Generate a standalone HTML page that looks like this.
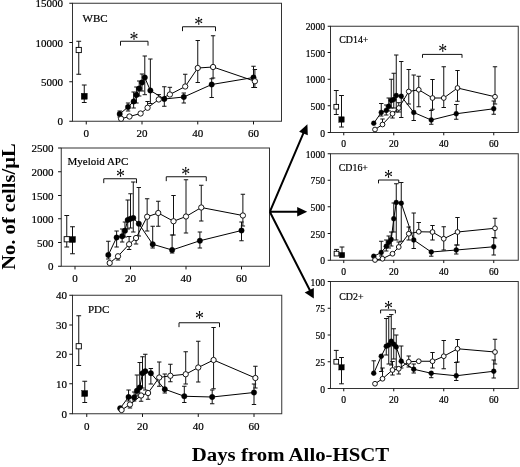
<!DOCTYPE html>
<html><head><meta charset="utf-8"><title>Figure</title>
<style>
html,body{margin:0;padding:0;background:#fff;}
svg{display:block;will-change:transform;font-family:"Liberation Serif","Times New Roman",serif;}
</style></head><body>
<svg width="520" height="467" viewBox="0 0 520 467">
<rect width="520" height="467" fill="#fff"/>
<g stroke="#111" stroke-width="1" fill="none">
<rect x="72.5" y="3.25" width="209.0" height="118.0" stroke="#333"/>
<path d="M69.3 3.25H72.5M69.3 42.5H72.5M69.3 81.75H72.5M69.3 121.25H72.5M86.25 121.25v3.2M142.00 121.25v3.2M197.75 121.25v3.2M253.50 121.25v3.2"/>
</g>
<g font-size="11" fill="#000" stroke="#000" stroke-width="0.2">
<text x="63" y="7.35" text-anchor="end">15000</text>
<text x="63" y="46.60" text-anchor="end">10000</text>
<text x="63" y="85.85" text-anchor="end">5000</text>
<text x="63" y="125.35" text-anchor="end">0</text>
<text x="86.25" y="137.4" text-anchor="middle">0</text>
<text x="142.00" y="137.4" text-anchor="middle">20</text>
<text x="197.75" y="137.4" text-anchor="middle">40</text>
<text x="253.50" y="137.4" text-anchor="middle">60</text>
<text x="82.5" y="22" font-size="11.00">WBC</text>
</g>
<g stroke="#111" stroke-width="1" fill="none">
<path d="M119.70 111.00V117.00M117.50 111.00h4.4M117.50 117.00h4.4" />
<path d="M128.06 103.00V111.00M125.86 103.00h4.4M125.86 111.00h4.4" />
<path d="M133.64 92.00V108.00M131.44 92.00h4.4M131.44 108.00h4.4" />
<path d="M136.43 87.00V103.00M134.23 87.00h4.4M134.23 103.00h4.4" />
<path d="M139.21 81.00V96.00M137.01 81.00h4.4M137.01 96.00h4.4" />
<path d="M142.00 74.00V91.00M139.80 74.00h4.4M139.80 91.00h4.4" />
<path d="M144.79 56.00V94.70M142.59 56.00h4.4M142.59 94.70h4.4" />
<path d="M150.36 59.00V103.50M148.16 59.00h4.4M148.16 103.50h4.4" />
<path d="M164.30 86.75V106.25M162.10 86.75h4.4M162.10 106.25h4.4" />
<path d="M183.81 93.00V103.00M181.61 93.00h4.4M181.61 103.00h4.4" />
<path d="M211.69 78.75V97.50M209.49 78.75h4.4M209.49 97.50h4.4" />
<path d="M253.50 66.25V87.50M251.30 66.25h4.4M251.30 87.50h4.4" />
<path d="M147.57 101.50V107.75M145.38 101.50h4.4M145.38 107.75h4.4" />
<path d="M158.73 94.60V99.50M156.53 94.60h4.4M156.53 99.50h4.4" />
<path d="M169.88 87.30V94.50M167.68 87.30h4.4M167.68 94.50h4.4" />
<path d="M185.21 74.25V86.50M183.01 74.25h4.4M183.01 86.50h4.4" />
<path d="M197.75 40.50V82.50M195.55 40.50h4.4M195.55 82.50h4.4" />
<path d="M213.08 35.75V78.00M210.88 35.75h4.4M210.88 78.00h4.4" />
<path d="M254.89 69.50V87.50M252.69 69.50h4.4M252.69 87.50h4.4" />
<path d="M78.75 41.25V74.25M76.35 41.25h4.8M76.35 74.25h4.8" />
<path d="M84.25 85.00V102.50M81.85 85.00h4.8M81.85 102.50h4.8" />
</g>
<g stroke="#111" stroke-width="1" fill="none">
<path d="M120.5 45.65V41.25H148V45.65"/>
<path d="M182.5 31.15V26.75H215.5V31.15"/>
</g>
<text transform="translate(134 45.55) scale(1 1.15)" text-anchor="middle" font-size="18" fill="#000">*</text>
<text transform="translate(198.75 31.05) scale(1 1.15)" text-anchor="middle" font-size="18" fill="#000">*</text>
<g stroke="#000" stroke-width="1" fill="none">
<polyline points="119.70,114 128.06,107 133.64,101.5 136.43,95 139.21,88.5 142.00,82.5 144.79,77.5 150.36,90.5 164.30,99 183.81,97 211.69,84.5 253.50,77.5"/>
<polyline points="121.09,118.75 129.46,116.5 140.61,113.5 147.57,107.75 158.73,99.5 169.88,94.5 185.21,86.5 197.75,68 213.08,67 254.89,81.25"/>
</g>
<g fill="#000" stroke="#000" stroke-width="0.4">
<circle cx="119.70" cy="114" r="2.70"/>
<circle cx="128.06" cy="107" r="2.70"/>
<circle cx="133.64" cy="101.5" r="2.70"/>
<circle cx="136.43" cy="95" r="2.70"/>
<circle cx="139.21" cy="88.5" r="2.70"/>
<circle cx="142.00" cy="82.5" r="2.70"/>
<circle cx="144.79" cy="77.5" r="2.70"/>
<circle cx="150.36" cy="90.5" r="2.70"/>
<circle cx="164.30" cy="99" r="2.70"/>
<circle cx="183.81" cy="97" r="2.70"/>
<circle cx="211.69" cy="84.5" r="2.70"/>
<circle cx="253.50" cy="77.5" r="2.70"/>
<rect x="81.25" y="93.25" width="6.0" height="6.0"/>
</g>
<g fill="#fff" stroke="#000" stroke-width="0.9">
<circle cx="121.09" cy="118.75" r="2.65"/>
<circle cx="129.46" cy="116.5" r="2.65"/>
<circle cx="140.61" cy="113.5" r="2.65"/>
<circle cx="147.57" cy="107.75" r="2.65"/>
<circle cx="158.73" cy="99.5" r="2.65"/>
<circle cx="169.88" cy="94.5" r="2.65"/>
<circle cx="185.21" cy="86.5" r="2.65"/>
<circle cx="197.75" cy="68" r="2.65"/>
<circle cx="213.08" cy="67" r="2.65"/>
<circle cx="254.89" cy="81.25" r="2.65"/>
<rect x="76.15" y="47.4" width="5.2" height="5.2"/>
</g>
<g stroke="#111" stroke-width="1" fill="none">
<rect x="61.25" y="148" width="208.25" height="118.25" stroke="#333"/>
<path d="M58.05 148H61.25M58.05 171.75H61.25M58.05 195.5H61.25M58.05 218.75H61.25M58.05 242.5H61.25M58.05 266.25H61.25M75.00 266.25v3.2M130.50 266.25v3.2M186.00 266.25v3.2M241.50 266.25v3.2"/>
</g>
<g font-size="11" fill="#000" stroke="#000" stroke-width="0.2">
<text x="53.5" y="152.10" text-anchor="end">2500</text>
<text x="53.5" y="175.85" text-anchor="end">2000</text>
<text x="53.5" y="199.60" text-anchor="end">1500</text>
<text x="53.5" y="222.85" text-anchor="end">1000</text>
<text x="53.5" y="246.60" text-anchor="end">500</text>
<text x="53.5" y="270.35" text-anchor="end">0</text>
<text x="75.00" y="282.4" text-anchor="middle">0</text>
<text x="130.50" y="282.4" text-anchor="middle">20</text>
<text x="186.00" y="282.4" text-anchor="middle">40</text>
<text x="241.50" y="282.4" text-anchor="middle">60</text>
<text x="67.5" y="165" font-size="11.00">Myeloid APC</text>
</g>
<g stroke="#111" stroke-width="1" fill="none">
<path d="M108.30 241.25V259.00M106.10 241.25h4.4M106.10 259.00h4.4" />
<path d="M116.62 231.00V247.00M114.42 231.00h4.4M114.42 247.00h4.4" />
<path d="M122.17 229.00V242.00M119.97 229.00h4.4M119.97 242.00h4.4" />
<path d="M124.95 222.00V237.00M122.75 222.00h4.4M122.75 237.00h4.4" />
<path d="M127.72 200.00V229.00M125.52 200.00h4.4M125.52 229.00h4.4" />
<path d="M130.50 193.75V228.00M128.30 193.75h4.4M128.30 228.00h4.4" />
<path d="M133.28 182.00V232.00M131.08 182.00h4.4M131.08 232.00h4.4" />
<path d="M138.82 187.50V236.00M136.62 187.50h4.4M136.62 236.00h4.4" />
<path d="M152.70 226.25V248.00M150.50 226.25h4.4M150.50 248.00h4.4" />
<path d="M172.12 235.00V253.00M169.93 235.00h4.4M169.93 253.00h4.4" />
<path d="M199.88 232.00V248.00M197.68 232.00h4.4M197.68 248.00h4.4" />
<path d="M241.50 222.00V240.75M239.30 222.00h4.4M239.30 240.75h4.4" />
<path d="M118.01 256.25V260.00M115.81 256.25h4.4M115.81 260.00h4.4" />
<path d="M129.11 236.50V249.50M126.91 236.50h4.4M126.91 249.50h4.4" />
<path d="M136.05 238.00V244.00M133.85 238.00h4.4M133.85 244.00h4.4" />
<path d="M147.15 198.75V231.00M144.95 198.75h4.4M144.95 231.00h4.4" />
<path d="M158.25 201.25V226.25M156.05 201.25h4.4M156.05 226.25h4.4" />
<path d="M173.51 195.50V235.00M171.31 195.50h4.4M171.31 235.00h4.4" />
<path d="M186.00 179.75V233.00M183.80 179.75h4.4M183.80 233.00h4.4" />
<path d="M201.26 185.25V221.00M199.06 185.25h4.4M199.06 221.00h4.4" />
<path d="M242.89 194.25V226.00M240.69 194.25h4.4M240.69 226.00h4.4" />
<path d="M66.75 215.50V247.00M64.35 215.50h4.8M64.35 247.00h4.8" />
<path d="M72.50 226.75V253.75M70.10 226.75h4.8M70.10 253.75h4.8" />
</g>
<g stroke="#111" stroke-width="1" fill="none">
<path d="M103.75 183.15V178.75H136.5V183.15"/>
<path d="M166.25 181.15V176.75H206.25V181.15"/>
</g>
<text transform="translate(120.5 182.80) scale(1 1.15)" text-anchor="middle" font-size="18" fill="#000">*</text>
<text transform="translate(185.75 181.05) scale(1 1.15)" text-anchor="middle" font-size="18" fill="#000">*</text>
<g stroke="#000" stroke-width="1" fill="none">
<polyline points="108.30,255 116.62,237.5 122.17,236.25 124.95,230.75 127.72,220 130.50,218.75 133.28,218 138.82,223.75 152.70,244.25 172.12,250 199.88,240.75 241.50,230.5"/>
<polyline points="109.69,263 118.01,256.25 129.11,244.25 136.05,238 147.15,216.75 158.25,213 173.51,221.25 186.00,216.5 201.26,207.5 242.89,215.5"/>
</g>
<g fill="#000" stroke="#000" stroke-width="0.4">
<circle cx="108.30" cy="255" r="2.70"/>
<circle cx="116.62" cy="237.5" r="2.70"/>
<circle cx="122.17" cy="236.25" r="2.70"/>
<circle cx="124.95" cy="230.75" r="2.70"/>
<circle cx="127.72" cy="220" r="2.70"/>
<circle cx="130.50" cy="218.75" r="2.70"/>
<circle cx="133.28" cy="218" r="2.70"/>
<circle cx="138.82" cy="223.75" r="2.70"/>
<circle cx="152.70" cy="244.25" r="2.70"/>
<circle cx="172.12" cy="250" r="2.70"/>
<circle cx="199.88" cy="240.75" r="2.70"/>
<circle cx="241.50" cy="230.5" r="2.70"/>
<rect x="69.5" y="236.5" width="6.0" height="6.0"/>
</g>
<g fill="#fff" stroke="#000" stroke-width="0.9">
<circle cx="109.69" cy="263" r="2.65"/>
<circle cx="118.01" cy="256.25" r="2.65"/>
<circle cx="129.11" cy="244.25" r="2.65"/>
<circle cx="136.05" cy="238" r="2.65"/>
<circle cx="147.15" cy="216.75" r="2.65"/>
<circle cx="158.25" cy="213" r="2.65"/>
<circle cx="173.51" cy="221.25" r="2.65"/>
<circle cx="186.00" cy="216.5" r="2.65"/>
<circle cx="201.26" cy="207.5" r="2.65"/>
<circle cx="242.89" cy="215.5" r="2.65"/>
<rect x="64.15" y="236.65" width="5.2" height="5.2"/>
</g>
<g stroke="#111" stroke-width="1" fill="none">
<rect x="72.5" y="295.25" width="209.25" height="118.5" stroke="#333"/>
<path d="M69.3 295.25H72.5M69.3 325H72.5M69.3 354.25H72.5M69.3 383.75H72.5M69.3 413.75H72.5M86.75 413.75v3.2M142.50 413.75v3.2M198.25 413.75v3.2M254.00 413.75v3.2"/>
</g>
<g font-size="11" fill="#000" stroke="#000" stroke-width="0.2">
<text x="67" y="299.35" text-anchor="end">40</text>
<text x="67" y="329.10" text-anchor="end">30</text>
<text x="67" y="358.35" text-anchor="end">20</text>
<text x="67" y="387.85" text-anchor="end">10</text>
<text x="67" y="417.85" text-anchor="end">0</text>
<text x="86.75" y="429.9" text-anchor="middle">0</text>
<text x="142.50" y="429.9" text-anchor="middle">20</text>
<text x="198.25" y="429.9" text-anchor="middle">40</text>
<text x="254.00" y="429.9" text-anchor="middle">60</text>
<text x="88" y="313.25" font-size="11.00">PDC</text>
</g>
<g stroke="#111" stroke-width="1" fill="none">
<path d="M128.56 390.00V401.00M126.36 390.00h4.4M126.36 401.00h4.4" />
<path d="M134.14 392.00V401.00M131.94 392.00h4.4M131.94 401.00h4.4" />
<path d="M136.93 375.00V396.00M134.73 375.00h4.4M134.73 396.00h4.4" />
<path d="M139.71 362.50V394.00M137.51 362.50h4.4M137.51 394.00h4.4" />
<path d="M142.50 356.75V388.00M140.30 356.75h4.4M140.30 388.00h4.4" />
<path d="M145.29 354.25V390.00M143.09 354.25h4.4M143.09 390.00h4.4" />
<path d="M150.86 368.50V384.00M148.66 368.50h4.4M148.66 384.00h4.4" />
<path d="M164.80 374.00V393.00M162.60 374.00h4.4M162.60 393.00h4.4" />
<path d="M184.31 386.25V402.50M182.11 386.25h4.4M182.11 402.50h4.4" />
<path d="M212.19 390.00V403.75M209.99 390.00h4.4M209.99 403.75h4.4" />
<path d="M254.00 384.00V404.50M251.80 384.00h4.4M251.80 404.50h4.4" />
<path d="M129.96 404.50V408.00M127.76 404.50h4.4M127.76 408.00h4.4" />
<path d="M141.11 395.50V401.25M138.91 395.50h4.4M138.91 401.25h4.4" />
<path d="M148.07 393.00V399.25M145.88 393.00h4.4M145.88 399.25h4.4" />
<path d="M159.23 362.00V386.25M157.03 362.00h4.4M157.03 386.25h4.4" />
<path d="M170.38 364.25V381.75M168.18 364.25h4.4M168.18 381.75h4.4" />
<path d="M185.71 351.75V384.00M183.51 351.75h4.4M183.51 384.00h4.4" />
<path d="M198.25 341.25V382.00M196.05 341.25h4.4M196.05 382.00h4.4" />
<path d="M213.58 327.50V388.75M211.38 327.50h4.4M211.38 388.75h4.4" />
<path d="M255.39 366.25V388.00M253.19 366.25h4.4M253.19 388.00h4.4" />
<path d="M78.75 315.75V365.50M76.35 315.75h4.8M76.35 365.50h4.8" />
<path d="M84.75 381.25V402.50M82.35 381.25h4.8M82.35 402.50h4.8" />
</g>
<g stroke="#111" stroke-width="1" fill="none">
<path d="M179 327.15V322.75H219.5V327.15"/>
</g>
<text transform="translate(199.5 324.60) scale(1 1.15)" text-anchor="middle" font-size="18" fill="#000">*</text>
<g stroke="#000" stroke-width="1" fill="none">
<polyline points="120.20,408.25 128.56,397 134.14,397.5 136.93,390.75 139.71,387.5 142.50,373.25 145.29,371.25 150.86,373.25 164.80,389.25 184.31,396.25 212.19,397 254.00,392.5"/>
<polyline points="121.59,410 129.96,404.5 141.11,395.5 148.07,393 159.23,377.5 170.38,375.75 185.71,374.25 198.25,367.5 213.58,360 255.39,378"/>
</g>
<g fill="#000" stroke="#000" stroke-width="0.4">
<circle cx="120.20" cy="408.25" r="2.70"/>
<circle cx="128.56" cy="397" r="2.70"/>
<circle cx="134.14" cy="397.5" r="2.70"/>
<circle cx="136.93" cy="390.75" r="2.70"/>
<circle cx="139.71" cy="387.5" r="2.70"/>
<circle cx="142.50" cy="373.25" r="2.70"/>
<circle cx="145.29" cy="371.25" r="2.70"/>
<circle cx="150.86" cy="373.25" r="2.70"/>
<circle cx="164.80" cy="389.25" r="2.70"/>
<circle cx="184.31" cy="396.25" r="2.70"/>
<circle cx="212.19" cy="397" r="2.70"/>
<circle cx="254.00" cy="392.5" r="2.70"/>
<rect x="81.75" y="390.5" width="6.0" height="6.0"/>
</g>
<g fill="#fff" stroke="#000" stroke-width="0.9">
<circle cx="121.59" cy="410" r="2.65"/>
<circle cx="129.96" cy="404.5" r="2.65"/>
<circle cx="141.11" cy="395.5" r="2.65"/>
<circle cx="148.07" cy="393" r="2.65"/>
<circle cx="159.23" cy="377.5" r="2.65"/>
<circle cx="170.38" cy="375.75" r="2.65"/>
<circle cx="185.71" cy="374.25" r="2.65"/>
<circle cx="198.25" cy="367.5" r="2.65"/>
<circle cx="213.58" cy="360" r="2.65"/>
<circle cx="255.39" cy="378" r="2.65"/>
<rect x="76.15" y="343.65" width="5.2" height="5.2"/>
</g>
<g stroke="#111" stroke-width="1" fill="none">
<rect x="330.5" y="26.25" width="187.75" height="106.25" stroke="#333"/>
<path d="M327.7 26.25H330.5M327.7 52.5H330.5M327.7 79.25H330.5M327.7 105.75H330.5M327.7 132.5H330.5M343.75 132.5v2.8M393.75 132.5v2.8M443.75 132.5v2.8M493.75 132.5v2.8"/>
</g>
<g font-size="9.6" fill="#000" stroke="#000" stroke-width="0.2">
<text x="325" y="30.35" text-anchor="end">2000</text>
<text x="325" y="56.60" text-anchor="end">1500</text>
<text x="325" y="83.35" text-anchor="end">1000</text>
<text x="325" y="109.85" text-anchor="end">500</text>
<text x="325" y="136.60" text-anchor="end">0</text>
<text x="343.75" y="146.75" text-anchor="middle">0</text>
<text x="393.75" y="146.75" text-anchor="middle">20</text>
<text x="443.75" y="146.75" text-anchor="middle">40</text>
<text x="493.75" y="146.75" text-anchor="middle">60</text>
<text x="339.25" y="42.5" font-size="9.90">CD14+</text>
</g>
<g stroke="#111" stroke-width="1" fill="none">
<path d="M381.25 103.50V116.00M379.05 103.50h4.4M379.05 116.00h4.4" />
<path d="M386.25 105.00V115.00M384.05 105.00h4.4M384.05 115.00h4.4" />
<path d="M388.75 98.00V111.00M386.55 98.00h4.4M386.55 111.00h4.4" />
<path d="M391.25 79.25V108.00M389.05 79.25h4.4M389.05 108.00h4.4" />
<path d="M393.75 73.25V108.00M391.55 73.25h4.4M391.55 108.00h4.4" />
<path d="M396.25 55.00V112.00M394.05 55.00h4.4M394.05 112.00h4.4" />
<path d="M401.25 61.50V117.50M399.05 61.50h4.4M399.05 117.50h4.4" />
<path d="M413.75 75.00V120.50M411.55 75.00h4.4M411.55 120.50h4.4" />
<path d="M431.25 110.50V124.25M429.05 110.50h4.4M429.05 124.25h4.4" />
<path d="M456.25 104.50V119.25M454.05 104.50h4.4M454.05 119.25h4.4" />
<path d="M493.75 101.00V114.25M491.55 101.00h4.4M491.55 114.25h4.4" />
<path d="M382.50 119.00V124.50M380.30 119.00h4.4M380.30 124.50h4.4" />
<path d="M392.50 113.75V118.00M390.30 113.75h4.4M390.30 118.00h4.4" />
<path d="M398.75 102.70V112.00M396.55 102.70h4.4M396.55 112.00h4.4" />
<path d="M408.75 69.50V104.00M406.55 69.50h4.4M406.55 104.00h4.4" />
<path d="M418.75 76.25V106.75M416.55 76.25h4.4M416.55 106.75h4.4" />
<path d="M432.50 79.50V109.25M430.30 79.50h4.4M430.30 109.25h4.4" />
<path d="M443.75 66.75V107.50M441.55 66.75h4.4M441.55 107.50h4.4" />
<path d="M457.50 70.50V101.25M455.30 70.50h4.4M455.30 101.25h4.4" />
<path d="M495.00 66.75V104.00M492.80 66.75h4.4M492.80 104.00h4.4" />
<path d="M336.25 90.50V114.50M333.85 90.50h4.8M333.85 114.50h4.8" />
<path d="M341.50 95.50V127.00M339.10 95.50h4.8M339.10 127.00h4.8" />
</g>
<g stroke="#111" stroke-width="1" fill="none">
<path d="M422.5 57.8V54.4H462V57.8"/>
</g>
<text transform="translate(442.75 58.20) scale(1 1.15)" text-anchor="middle" font-size="18" fill="#000">*</text>
<g stroke="#000" stroke-width="1" fill="none">
<polyline points="373.75,123.25 381.25,112.5 386.25,110.5 388.75,106.25 391.25,100.5 393.75,99.5 396.25,95.5 401.25,96.25 413.75,112.5 431.25,120 456.25,113.75 493.75,108.75"/>
<polyline points="375.00,129.5 382.50,124.5 392.50,113.75 398.75,108 408.75,91.5 418.75,89.75 432.50,98 443.75,98 457.50,88 495.00,96.75"/>
</g>
<g fill="#000" stroke="#000" stroke-width="0.4">
<circle cx="373.75" cy="123.25" r="2.43"/>
<circle cx="381.25" cy="112.5" r="2.43"/>
<circle cx="386.25" cy="110.5" r="2.43"/>
<circle cx="388.75" cy="106.25" r="2.43"/>
<circle cx="391.25" cy="100.5" r="2.43"/>
<circle cx="393.75" cy="99.5" r="2.43"/>
<circle cx="396.25" cy="95.5" r="2.43"/>
<circle cx="401.25" cy="96.25" r="2.43"/>
<circle cx="413.75" cy="112.5" r="2.43"/>
<circle cx="431.25" cy="120" r="2.43"/>
<circle cx="456.25" cy="113.75" r="2.43"/>
<circle cx="493.75" cy="108.75" r="2.43"/>
<rect x="338.8" y="116.8" width="5.4" height="5.4"/>
</g>
<g fill="#fff" stroke="#000" stroke-width="0.9">
<circle cx="375.00" cy="129.5" r="2.38"/>
<circle cx="382.50" cy="124.5" r="2.38"/>
<circle cx="392.50" cy="113.75" r="2.38"/>
<circle cx="398.75" cy="108" r="2.38"/>
<circle cx="408.75" cy="91.5" r="2.38"/>
<circle cx="418.75" cy="89.75" r="2.38"/>
<circle cx="432.50" cy="98" r="2.38"/>
<circle cx="443.75" cy="98" r="2.38"/>
<circle cx="457.50" cy="88" r="2.38"/>
<circle cx="495.00" cy="96.75" r="2.38"/>
<rect x="333.91" y="104.41" width="4.680000000000001" height="4.680000000000001"/>
</g>
<g stroke="#111" stroke-width="1" fill="none">
<rect x="330.5" y="153.75" width="187.75" height="106.5" stroke="#333"/>
<path d="M327.7 153.75H330.5M327.7 180.25H330.5M327.7 206.75H330.5M327.7 233.5H330.5M327.7 260.25H330.5M343.75 260.25v2.8M393.75 260.25v2.8M443.75 260.25v2.8M493.75 260.25v2.8"/>
</g>
<g font-size="9.6" fill="#000" stroke="#000" stroke-width="0.2">
<text x="325" y="157.85" text-anchor="end">1000</text>
<text x="325" y="184.35" text-anchor="end">750</text>
<text x="325" y="210.85" text-anchor="end">500</text>
<text x="325" y="237.60" text-anchor="end">250</text>
<text x="325" y="264.35" text-anchor="end">0</text>
<text x="343.75" y="274.5" text-anchor="middle">0</text>
<text x="393.75" y="274.5" text-anchor="middle">20</text>
<text x="443.75" y="274.5" text-anchor="middle">40</text>
<text x="493.75" y="274.5" text-anchor="middle">60</text>
<text x="338.75" y="170.5" font-size="9.90">CD16+</text>
</g>
<g stroke="#111" stroke-width="1" fill="none">
<path d="M381.25 241.25V256.00M379.05 241.25h4.4M379.05 256.00h4.4" />
<path d="M386.25 240.00V251.00M384.05 240.00h4.4M384.05 251.00h4.4" />
<path d="M388.75 236.00V248.00M386.55 236.00h4.4M386.55 248.00h4.4" />
<path d="M391.25 232.00V246.00M389.05 232.00h4.4M389.05 246.00h4.4" />
<path d="M393.75 203.00V232.00M391.55 203.00h4.4M391.55 232.00h4.4" />
<path d="M396.25 183.75V240.00M394.05 183.75h4.4M394.05 240.00h4.4" />
<path d="M401.25 182.50V241.25M399.05 182.50h4.4M399.05 241.25h4.4" />
<path d="M413.75 213.00V248.50M411.55 213.00h4.4M411.55 248.50h4.4" />
<path d="M431.25 252.00V256.20M429.05 252.00h4.4M429.05 256.20h4.4" />
<path d="M456.25 245.00V254.00M454.05 245.00h4.4M454.05 254.00h4.4" />
<path d="M493.75 237.50V255.00M491.55 237.50h4.4M491.55 255.00h4.4" />
<path d="M398.75 242.00V247.00M396.55 242.00h4.4M396.55 247.00h4.4" />
<path d="M408.75 227.00V240.00M406.55 227.00h4.4M406.55 240.00h4.4" />
<path d="M418.75 222.50V231.75M416.55 222.50h4.4M416.55 231.75h4.4" />
<path d="M432.50 225.50V240.00M430.30 225.50h4.4M430.30 240.00h4.4" />
<path d="M443.75 226.75V250.00M441.55 226.75h4.4M441.55 250.00h4.4" />
<path d="M457.50 217.50V245.00M455.30 217.50h4.4M455.30 245.00h4.4" />
<path d="M495.00 218.25V238.00M492.80 218.25h4.4M492.80 238.00h4.4" />
<path d="M336.50 249.40V253.60M334.10 249.40h4.8M334.10 253.60h4.8" />
<path d="M342.00 247.00V255.10M339.60 247.00h4.8M339.60 255.10h4.8" />
</g>
<g stroke="#111" stroke-width="1" fill="none">
<path d="M378.5 183.4V180H398.75V183.4"/>
</g>
<text transform="translate(388.5 183.80) scale(1 1.15)" text-anchor="middle" font-size="18" fill="#000">*</text>
<g stroke="#000" stroke-width="1" fill="none">
<polyline points="373.75,256.25 381.25,252.5 386.25,246.25 388.75,242.5 391.25,239.5 393.75,218.75 396.25,202.5 401.25,203.25 413.75,240 431.25,252 456.25,250 493.75,246.75"/>
<polyline points="375.00,260 382.50,258.75 392.50,253.75 398.75,247 408.75,233.75 418.75,231.75 432.50,232 443.75,238.75 457.50,232 495.00,228.25"/>
</g>
<g fill="#000" stroke="#000" stroke-width="0.4">
<circle cx="373.75" cy="256.25" r="2.43"/>
<circle cx="381.25" cy="252.5" r="2.43"/>
<circle cx="386.25" cy="246.25" r="2.43"/>
<circle cx="388.75" cy="242.5" r="2.43"/>
<circle cx="391.25" cy="239.5" r="2.43"/>
<circle cx="393.75" cy="218.75" r="2.43"/>
<circle cx="396.25" cy="202.5" r="2.43"/>
<circle cx="401.25" cy="203.25" r="2.43"/>
<circle cx="413.75" cy="240" r="2.43"/>
<circle cx="431.25" cy="252" r="2.43"/>
<circle cx="456.25" cy="250" r="2.43"/>
<circle cx="493.75" cy="246.75" r="2.43"/>
<rect x="339.3" y="252.4" width="5.4" height="5.4"/>
</g>
<g fill="#fff" stroke="#000" stroke-width="0.9">
<circle cx="375.00" cy="260" r="2.38"/>
<circle cx="382.50" cy="258.75" r="2.38"/>
<circle cx="392.50" cy="253.75" r="2.38"/>
<circle cx="398.75" cy="247" r="2.38"/>
<circle cx="408.75" cy="233.75" r="2.38"/>
<circle cx="418.75" cy="231.75" r="2.38"/>
<circle cx="432.50" cy="232" r="2.38"/>
<circle cx="443.75" cy="238.75" r="2.38"/>
<circle cx="457.50" cy="232" r="2.38"/>
<circle cx="495.00" cy="228.25" r="2.38"/>
<rect x="334.16" y="251.26" width="4.680000000000001" height="4.680000000000001"/>
</g>
<g stroke="#111" stroke-width="1" fill="none">
<rect x="330.5" y="281.5" width="187.75" height="107.0" stroke="#333"/>
<path d="M327.7 281.5H330.5M327.7 308.25H330.5M327.7 335H330.5M327.7 361.75H330.5M327.7 388.5H330.5M343.75 388.5v2.8M393.75 388.5v2.8M443.75 388.5v2.8M493.75 388.5v2.8"/>
</g>
<g font-size="9.6" fill="#000" stroke="#000" stroke-width="0.2">
<text x="325" y="285.60" text-anchor="end">100</text>
<text x="325" y="312.35" text-anchor="end">75</text>
<text x="325" y="339.10" text-anchor="end">50</text>
<text x="325" y="365.85" text-anchor="end">25</text>
<text x="325" y="392.60" text-anchor="end">0</text>
<text x="343.75" y="403" text-anchor="middle">0</text>
<text x="393.75" y="403" text-anchor="middle">20</text>
<text x="443.75" y="403" text-anchor="middle">40</text>
<text x="493.75" y="403" text-anchor="middle">60</text>
<text x="339.25" y="300" font-size="9.90">CD2+</text>
</g>
<g stroke="#111" stroke-width="1" fill="none">
<path d="M373.75 360.80V373.20M371.55 360.80h4.4M371.55 373.20h4.4" />
<path d="M381.25 356.25V371.50M379.05 356.25h4.4M379.05 371.50h4.4" />
<path d="M386.25 318.50V355.00M384.05 318.50h4.4M384.05 355.00h4.4" />
<path d="M388.75 316.60V364.00M386.55 316.60h4.4M386.55 364.00h4.4" />
<path d="M391.25 314.60V365.00M389.05 314.60h4.4M389.05 365.00h4.4" />
<path d="M393.75 328.75V359.00M391.55 328.75h4.4M391.55 359.00h4.4" />
<path d="M396.25 335.00V367.00M394.05 335.00h4.4M394.05 367.00h4.4" />
<path d="M401.25 346.00V368.00M399.05 346.00h4.4M399.05 368.00h4.4" />
<path d="M413.75 364.00V373.00M411.55 364.00h4.4M411.55 373.00h4.4" />
<path d="M431.25 373.25V377.70M429.05 373.25h4.4M429.05 377.70h4.4" />
<path d="M456.25 362.50V380.50M454.05 362.50h4.4M454.05 380.50h4.4" />
<path d="M493.75 360.00V378.00M491.55 360.00h4.4M491.55 378.00h4.4" />
<path d="M382.50 368.00V378.75M380.30 368.00h4.4M380.30 378.75h4.4" />
<path d="M392.50 361.50V375.00M390.30 361.50h4.4M390.30 375.00h4.4" />
<path d="M398.75 368.75V374.00M396.55 368.75h4.4M396.55 374.00h4.4" />
<path d="M408.75 356.00V367.00M406.55 356.00h4.4M406.55 367.00h4.4" />
<path d="M432.50 352.50V368.00M430.30 352.50h4.4M430.30 368.00h4.4" />
<path d="M443.75 340.50V368.75M441.55 340.50h4.4M441.55 368.75h4.4" />
<path d="M457.50 339.50V362.00M455.30 339.50h4.4M455.30 362.00h4.4" />
<path d="M495.00 339.25V364.00M492.80 339.25h4.4M492.80 364.00h4.4" />
<path d="M336.25 350.40V361.75M333.85 350.40h4.8M333.85 361.75h4.8" />
<path d="M341.50 357.50V383.80M339.10 357.50h4.8M339.10 383.80h4.8" />
</g>
<g stroke="#111" stroke-width="1" fill="none">
<path d="M380.6 313.4V310H395.4V313.4"/>
</g>
<text transform="translate(388.5 314.70) scale(1 1.15)" text-anchor="middle" font-size="18" fill="#000">*</text>
<g stroke="#000" stroke-width="1" fill="none">
<polyline points="373.75,373.2 381.25,356.25 386.25,346.25 388.75,345 391.25,341.25 393.75,344.25 396.25,347 401.25,361.25 413.75,369.25 431.25,373.25 456.25,375.75 493.75,371.25"/>
<polyline points="375.00,383.75 382.50,378.75 392.50,370 398.75,368.75 408.75,361.75 418.75,361.25 432.50,361.25 443.75,356.25 457.50,348.75 495.00,352"/>
</g>
<g fill="#000" stroke="#000" stroke-width="0.4">
<circle cx="373.75" cy="373.2" r="2.43"/>
<circle cx="381.25" cy="356.25" r="2.43"/>
<circle cx="386.25" cy="346.25" r="2.43"/>
<circle cx="388.75" cy="345" r="2.43"/>
<circle cx="391.25" cy="341.25" r="2.43"/>
<circle cx="393.75" cy="344.25" r="2.43"/>
<circle cx="396.25" cy="347" r="2.43"/>
<circle cx="401.25" cy="361.25" r="2.43"/>
<circle cx="413.75" cy="369.25" r="2.43"/>
<circle cx="431.25" cy="373.25" r="2.43"/>
<circle cx="456.25" cy="375.75" r="2.43"/>
<circle cx="493.75" cy="371.25" r="2.43"/>
<rect x="338.8" y="364.6" width="5.4" height="5.4"/>
</g>
<g fill="#fff" stroke="#000" stroke-width="0.9">
<circle cx="375.00" cy="383.75" r="2.38"/>
<circle cx="382.50" cy="378.75" r="2.38"/>
<circle cx="392.50" cy="370" r="2.38"/>
<circle cx="398.75" cy="368.75" r="2.38"/>
<circle cx="408.75" cy="361.75" r="2.38"/>
<circle cx="418.75" cy="361.25" r="2.38"/>
<circle cx="432.50" cy="361.25" r="2.38"/>
<circle cx="443.75" cy="356.25" r="2.38"/>
<circle cx="457.50" cy="348.75" r="2.38"/>
<circle cx="495.00" cy="352" r="2.38"/>
<rect x="333.91" y="359.41" width="4.680000000000001" height="4.680000000000001"/>
</g>
<g stroke="#000" stroke-width="2" fill="none" stroke-linecap="butt">
<path d="M269.8 211.8L304.6 130.4M269.8 211.8H298M269.8 211.8L310 290.5"/>
</g>
<g fill="#000">
<polygon points="307.4,124.2 299.1,131.7 307.8,135.2"/>
<polygon points="307.2,211.8 297.2,207 297.2,216.6"/>
<polygon points="313.8,298.4 304.7,292.5 313.8,288"/>
</g>
<text x="290.5" y="461" text-anchor="middle" font-size="18" font-weight="bold" fill="#000" textLength="197.5" lengthAdjust="spacingAndGlyphs">Days from Allo-HSCT</text>
<text transform="translate(15 206.5) rotate(-90)" text-anchor="middle" font-size="18" font-weight="bold" fill="#000" textLength="126.5" lengthAdjust="spacingAndGlyphs">No. of cells/µL</text>
</svg>
</body></html>
